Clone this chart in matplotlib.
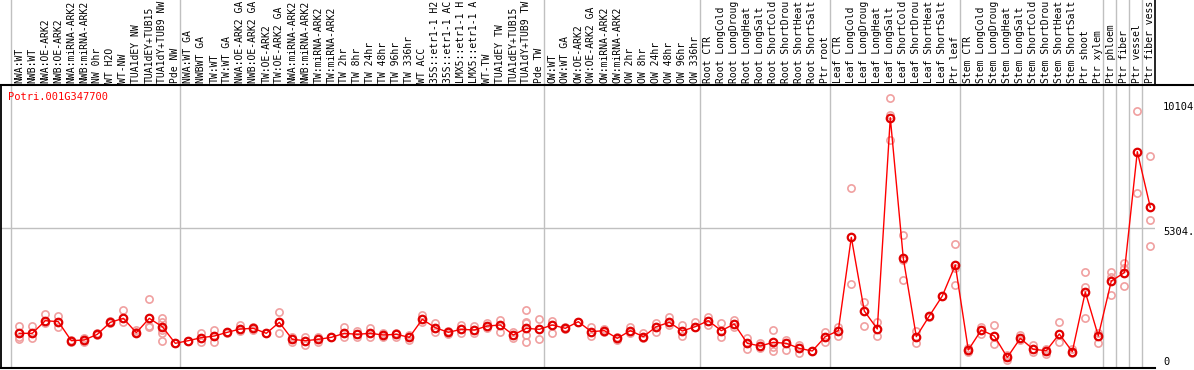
import matplotlib
matplotlib.use("Agg")
import matplotlib.pyplot as plt
from matplotlib.lines import Line2D

labels = ["NWA:WT", "NWB:WT", "NWA:OE-ARK2", "NWB:OE-ARK2", "NWA:miRNA-ARK2", "NWB:miRNA-ARK2",
          "NW 0hr", "WT H2O", "WT-NW", "TUA1dEY NW", "TUA1dEY+TUB15 NW", "TUA1dY+TUB9 NW", "Pde NW",
          "NWA:WT GA", "NWBWT GA", "TW:WT", "TW:WT GA", "NWA:OE-ARK2 GA", "NWB:OE-ARK2 GA",
          "TW:OE-ARK2", "TW:OE-ARK2 GA", "NWA:miRNA-ARK2", "NWB:miRNA-ARK2", "TW:miRNA-ARK2",
          "TW:miRNA-ARK2", "TW 2hr", "TW 8hr", "TW 24hr", "TW 48hr", "TW 96hr", "TW 336hr", "WT ACC",
          "35S::etr1-1 H2O", "35S::etr1-1 ACC", "LMX5::etr1-1 H2O", "LMX5::etr1-1 ACC", "WT-TW",
          "TUA1dEY TW", "TUA1dEY+TUB15 TW", "TUA1dY+TUB9 TW", "Pde TW",
          "OW:WT", "OW:WT GA", "OW:OE-ARK2", "OW:OE-ARK2 GA", "OW:miRNA-ARK2", "OW:miRNA-ARK2",
          "OW 2hr", "OW 8hr", "OW 24hr", "OW 48hr", "OW 96hr", "OW 336hr",
          "Root CTR", "Root LongCold", "Root LongDrought", "Root LongHeat", "Root LongSalt",
          "Root ShortCold", "Root ShortDrought", "Root ShortHeat", "Root ShortSalt", "Ptr root",
          "Leaf CTR", "Leaf LongCold", "Leaf LongDrought", "Leaf LongHeat", "Leaf LongSalt",
          "Leaf ShortCold", "Leaf ShortDrought", "Leaf ShortHeat", "Leaf ShortSalt", "Ptr leaf",
          "Stem CTR", "Stem LongCold", "Stem LongDrought", "Stem LongHeat", "Stem LongSalt",
          "Stem ShortCold", "Stem ShortDrought", "Stem ShortHeat", "Stem ShortSalt", "Ptr shoot",
          "Ptr xylem", "Ptr phloem", "Ptr fiber", "Ptr vessel", "Ptr fiber vessel"]

means = [1314, 1314, 1793, 1755, 1035, 1061, 1276, 1730, 1882, 1339, 1882, 1566, 935,
         1035, 1149, 1212, 1352, 1478, 1503, 1314, 1730, 1086, 1035, 1086, 1162, 1314, 1276,
         1314, 1250, 1276, 1162, 1844, 1528, 1352, 1465, 1440, 1591, 1629, 1250, 1503, 1465,
         1629, 1503, 1755, 1377, 1415, 1124, 1415, 1187, 1566, 1730, 1402, 1566,
         1793, 1415, 1667, 935, 834, 973, 935, 745, 644, 1187,
         1415, 4952, 2160, 1478, 9485, 4156, 1187, 1970, 2728, 3903,
         682, 1440, 1212, 404, 1124, 707, 657, 1288, 619, 2880, 1212,
         3296, 3611, 8196, 6089]

replicates = [[1591, 1187, 1086], [1591, 1124], [2046, 1692], [1983, 1566], [1061, 998],
              [1124, 998], [1339, 1250], [1793, 1692], [2197, 1730], [1440, 1377],
              [2614, 1591, 1541], [1882, 1755, 1440, 1339, 1035], [935],
              [1035], [1314, 998], [1440, 998], [1352, 1314], [1629, 1415], [1566, 1440],
              [1314], [2134, 1339], [1187, 998], [1187, 871], [1162, 998], [1187],
              [1566, 1187], [1415, 1187], [1503, 1187], [1314, 1187], [1339, 1187],
              [1250, 1061], [2008, 1755], [1692, 1377], [1415, 1288], [1629, 1314],
              [1591, 1314], [1718, 1503], [1819, 1377], [1377, 1124],
              [2197, 1755, 1692, 1250, 998], [1844, 1086],
              [1793, 1314], [1566, 1465], [1755], [1566, 1212], [1465, 1377], [1187, 1061],
              [1541, 1314], [1314, 1124], [1692, 1377], [1944, 1629], [1629, 1212], [1755, 1566],
              [1944, 1629], [1692, 1187], [1819, 1566], [1124, 707], [960, 745],
              [1440, 783, 657], [1061, 682], [871, 556], [644], [1377, 998],
              [1541, 1212], [6809, 3183], [2512, 1591], [1730, 1225], [10219, 9586, 8639],
              [5039, 4092, 3334], [1415, 935], [1921], [2728], [4698, 3776, 3145],
              [746, 619], [1566, 1288], [1629, 897], [480, 290], [1250, 1048], [871, 619],
              [707, 530], [1730, 998], [707, 581], [3624, 3082, 1895], [1314, 935],
              [3624, 3460, 2766], [3967, 3776, 3107], [9738, 6619], [8033, 5608, 4623]]

group_starts = [0, 13, 41, 53, 63, 73, 84, 85, 86, 87]
gene = "Potri.001G347700"
axis_labels = ["10104", "5304.", "0"]
mid_value = 5304.5
max_chars = 14  # the label band shows at most 14 characters per label

W, H = 1194, 370
fig = plt.figure(figsize=(W / 100, H / 100), dpi=100)
FONT = "DejaVu Sans Mono"
FS = 7.0

# pixel geometry
x_left, x_right = 1, 1155
y_top, y_bot = 85, 368
px_per_unit = 140 / mid_value
x0_px, dx_px = 19.3, 13.0
xmin = (x_left - x0_px) / dx_px
xmax = (x_right - x0_px) / dx_px
ymax = (y_bot - y_top) / px_per_unit

ax = fig.add_axes([x_left / W, (H - y_bot) / H, (x_right - x_left) / W, (y_bot - y_top) / H])
ax.set_xlim(xmin, xmax)
ax.set_ylim(0, ymax)
ax.set_xticks([])
ax.set_yticks([])
for s in ["top", "right"]:
    ax.spines[s].set_visible(False)
ax.spines["left"].set_linewidth(1.3)
ax.spines["bottom"].set_linewidth(1.5)

grid_c = "#c0c0c0"
for g in group_starts:
    ax.axvline(g - 0.65, color=grid_c, lw=1.0, zorder=1)
ax.axhline(mid_value, color=grid_c, lw=1.0, zorder=1)

n = len(labels)
xs = list(range(n))
rx, ry = [], []
for i, reps in enumerate(replicates):
    for v in reps:
        rx.append(i)
        ry.append(v)
ax.plot(rx, ry, linestyle="none", marker="o", ms=5.2, mfc="none", mec="#f0a0a0", mew=1.2, zorder=2)
ax.plot(xs, means, color="#ff0000", lw=1.0, zorder=3)
ax.plot(xs, means, linestyle="none", marker="o", ms=5.4, mfc="none", mec="#e00000", mew=1.6, zorder=4)

# label band
lab = fig.add_axes([x_left / W, (H - y_top) / H, (x_right - x_left) / W, y_top / H])
lab.set_xlim(xmin, xmax)
lab.set_ylim(0, y_top)
lab.axis("off")
for g in group_starts:
    lab.axvline(g - 0.65, color=grid_c, lw=1.0, zorder=1)
for i, t in enumerate(labels):
    lab.text(i, 2, t[:max_chars].rstrip(), rotation=90, ha="center", va="bottom", fontsize=FS,
             family=FONT, color="black", clip_on=False)

# separator and right border of label band
fig.add_artist(Line2D([0, 1], [(H - y_top) / H] * 2, color="black", lw=1.5, transform=fig.transFigure))
fig.add_artist(Line2D([x_right / W] * 2, [(H - y_top) / H, 1], color="black", lw=1.2, transform=fig.transFigure))

# right-hand value labels
for t, yc in zip(axis_labels, [107, 232, 362]):
    fig.text(1163 / W, (H - yc) / H, t, ha="left", va="center", fontsize=FS + 0.5, family=FONT, color="black")

fig.text(8 / W, (H - 97) / H, gene, ha="left", va="center", fontsize=FS + 0.5, family=FONT, color="#ff0000")

fig.savefig("out.png", dpi=100)
